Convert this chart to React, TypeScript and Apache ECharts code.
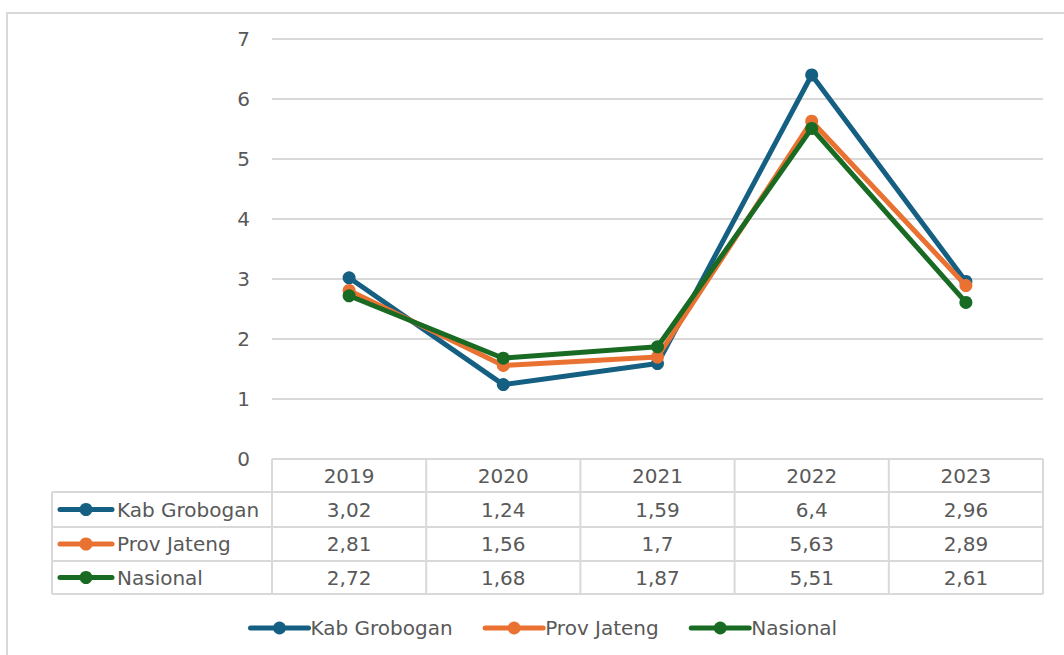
import React, { useEffect, useRef } from "react";
import * as echarts from "echarts";

const years = ["2019", "2020", "2021", "2022", "2023"];
const seriesNames = ["Kab Grobogan", "Prov Jateng", "Nasional"];
const kabGrobogan = [3.02, 1.24, 1.59, 6.4, 2.96];
const provJateng = [2.81, 1.56, 1.7, 5.63, 2.89];
const nasional = [2.72, 1.68, 1.87, 5.51, 2.61];
const colors = ["#156082", "#E97132", "#196B24"];
const yTicks = { min: 0, max: 7, interval: 1 };

const FONT = "DejaVu Sans";
const TXT = "#595959";
const LINE = "#d9d9d9";
const FS = 20;

export default function App() {
  const ref = useRef<HTMLDivElement>(null);
  useEffect(() => {
    if (!ref.current) return;
    const chart = echarts.init(ref.current, null, { renderer: "svg" });
    const values = [kabGrobogan, provJateng, nasional];
    const gridLeft = 272;
    const gridRight = 1043;
    const gridTop = 39;
    const gridBottom = 459;
    const colW = (gridRight - gridLeft) / years.length;
    const rowLines = [459, 492, 527, 561, 594];
    const tableLeft = 52;

    const graphics: any[] = [];
    graphics.push({
      type: "rect",
      shape: { x: 7, y: 13, width: 1080, height: 680 },
      style: { fill: "none", stroke: LINE, lineWidth: 2 },
      silent: true,
    });
    rowLines.forEach((y, i) => {
      graphics.push({
        type: "line",
        shape: { x1: i === 0 ? gridLeft : tableLeft, y1: y, x2: gridRight, y2: y },
        style: { stroke: LINE, lineWidth: 2 },
        silent: true,
      });
    });
    graphics.push({
      type: "line",
      shape: { x1: tableLeft, y1: rowLines[1], x2: tableLeft, y2: rowLines[4] },
      style: { stroke: LINE, lineWidth: 2 },
      silent: true,
    });
    for (let i = 0; i <= years.length; i++) {
      const x = gridLeft + i * colW;
      graphics.push({
        type: "line",
        shape: { x1: x, y1: rowLines[0], x2: x, y2: rowLines[4] },
        style: { stroke: LINE, lineWidth: 2 },
        silent: true,
      });
    }
    seriesNames.forEach((name, r) => {
      const cy = (rowLines[r + 1] + rowLines[r + 2]) / 2;
      graphics.push({
        type: "line",
        shape: { x1: 60, y1: cy, x2: 112, y2: cy },
        style: { stroke: colors[r], lineWidth: 5, lineCap: "round" },
        silent: true,
      });
      graphics.push({
        type: "circle",
        shape: { cx: 86, cy, r: 6.5 },
        style: { fill: colors[r] },
        silent: true,
      });
      graphics.push({
        type: "text",
        x: 117,
        y: cy,
        style: { text: name, font: `${FS}px '${FONT}'`, fill: TXT, verticalAlign: "middle", align: "left" },
        silent: true,
      });
      values[r].forEach((v, c) => {
        graphics.push({
          type: "text",
          x: gridLeft + (c + 0.5) * colW,
          y: cy,
          style: {
            text: String(v).replace(".", ","),
            font: `${FS}px '${FONT}'`,
            fill: TXT,
            verticalAlign: "middle",
            align: "center",
          },
          silent: true,
        });
      });
    });

    chart.setOption({
      animation: false,
      textStyle: { fontFamily: FONT },
      grid: {
        left: gridLeft,
        right: 1064 - gridRight,
        top: gridTop,
        bottom: 655 - gridBottom,
        containLabel: false,
      },
      legend: {
        bottom: 12,
        left: 243,
        itemWidth: 58,
        itemHeight: 16,
        itemGap: 30,
        data: seriesNames,
        lineStyle: { width: 5, cap: "round" },
        textStyle: { fontSize: FS, color: TXT, fontFamily: FONT, padding: [0, 0, 0, -3] },
      },
      xAxis: {
        type: "category",
        data: years,
        boundaryGap: true,
        axisLine: { show: false },
        axisTick: { show: false },
        axisLabel: { fontSize: FS, color: TXT, margin: 7, fontFamily: FONT },
      },
      yAxis: {
        type: "value",
        min: yTicks.min,
        max: yTicks.max,
        interval: yTicks.interval,
        axisLine: { show: false },
        axisTick: { show: false },
        splitLine: { lineStyle: { color: LINE, width: 2 } },
        axisLabel: { fontSize: FS, color: TXT, margin: 22, fontFamily: FONT },
      },
      graphic: graphics,
      series: seriesNames.map((name, i) => ({
        name,
        type: "line",
        data: values[i],
        symbol: "circle",
        symbolSize: 13,
        lineStyle: { width: 5, color: colors[i], cap: "round" },
        itemStyle: { color: colors[i] },
        z: 2 + i,
      })),
    });
    return () => chart.dispose();
  }, []);
  return (
    <div
      ref={ref}
      style={{ position: "fixed", left: 0, top: 0, width: 1064, height: 655, background: "#fff" }}
    />
  );
}
